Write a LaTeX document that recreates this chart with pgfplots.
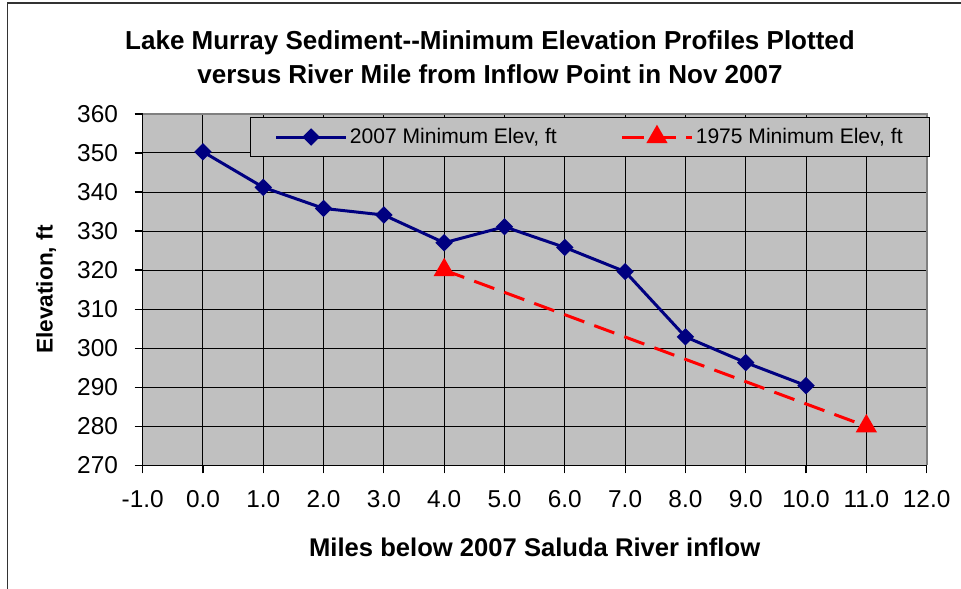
\documentclass[border=0pt]{standalone}
\usepackage{fontspec}
\setmainfont{Liberation Sans}
\usepackage{pgfplots}
\pgfplotsset{compat=1.18}

\definecolor{plotgray}{RGB}{192,192,192}
\definecolor{bordergray}{RGB}{128,128,128}
\definecolor{navyline}{RGB}{0,0,128}
\definecolor{redline}{RGB}{255,0,0}

\begin{document}
\begin{tikzpicture}
% page = 961 x 589 px at 0.75pt per px
\useasboundingbox (0,0) rectangle (720.75pt,441.75pt);
\draw[line width=1.1pt, black!80] (5.6pt,-2pt) -- (5.6pt,439.5pt) -- (722pt,439.5pt);

\node[anchor=base, font=\bfseries\fontsize{19.5}{23}\selectfont] at (367.5pt,404.8pt)
  {Lake Murray Sediment-{}-Minimum Elevation Profiles Plotted};
\node[anchor=base, font=\bfseries\fontsize{19.5}{23}\selectfont] at (367.5pt,379.3pt)
  {versus River Mile from Inflow Point in Nov 2007};

\begin{axis}[
  at={(107pt,92.8pt)}, anchor=south west,
  scale only axis, width=588pt, height=263.5pt,
  xmin=-1, xmax=12, ymin=270, ymax=360,
  xtick={-1,0,...,12}, ytick={270,280,...,360},
  axis x line*=bottom, axis y line*=left,
  axis line style={black, line width=1pt},
  axis background/.style={fill=plotgray},
  grid=major, grid style={black, line width=0.75pt},
  tick align=outside, major tick length=6pt,
  tick style={black, line width=0.9pt},
  /pgf/number format/assume math mode=true,
  tick label style={font=\fontsize{18.3}{22}\selectfont},
  xticklabel style={/pgf/number format/fixed, /pgf/number format/fixed zerofill,
                    /pgf/number format/precision=1, yshift=-9pt},
  yticklabel style={xshift=-9pt},
  xlabel={Miles below 2007 Saluda River inflow},
  xlabel style={at={(axis description cs:0.5,-0.2602)}, anchor=base,
                font=\bfseries\fontsize{19.2}{23}\selectfont},
  ylabel={Elevation, ft},
  ylabel style={at={(axis description cs:-0.1148,0.5)}, anchor=base,
                font=\bfseries\fontsize{17}{20}\selectfont},
  legend columns=2,
  legend style={at={(axis description cs:0.1375,0.9906)}, anchor=north west,
                fill=plotgray, draw=black, line width=0.75pt,
                font=\fontsize{15.8}{19}\selectfont,
                inner xsep=18pt, inner ysep=6pt,
                /tikz/every odd column/.append style={column sep=0pt},
                /tikz/every even column/.append style={column sep=46pt}},
  legend image code/.code={\draw[mark repeat=2, mark phase=2, #1]
      plot coordinates {(0pt,0pt) (26pt,0pt) (52pt,0pt)};},
  after end axis/.code={\draw[bordergray, line width=1.5pt]
      (rel axis cs:0,1) -- (rel axis cs:1,1) -- (rel axis cs:1,0);},
]
\addplot[navyline, line width=2.25pt, mark=square*, mark size=3.5pt,
         mark options={rotate=45, solid, fill=navyline}]
  coordinates {(0,350.3) (1,341.2) (2,335.8) (3,334.1) (4,327.0) (5,331.1)
               (6,325.8) (7,319.6) (8,302.9) (9,296.3) (10,290.4)};
\addlegendentry{2007 Minimum Elev, ft}
\addplot[redline, line width=2.25pt, dash pattern=on 16pt off 8pt,
         mark=triangle*, mark size=7pt, mark options={solid, fill=redline}]
  coordinates {(4,320) (11,280)};
\addlegendentry{1975 Minimum Elev, ft}
\end{axis}
\end{tikzpicture}
\end{document}
